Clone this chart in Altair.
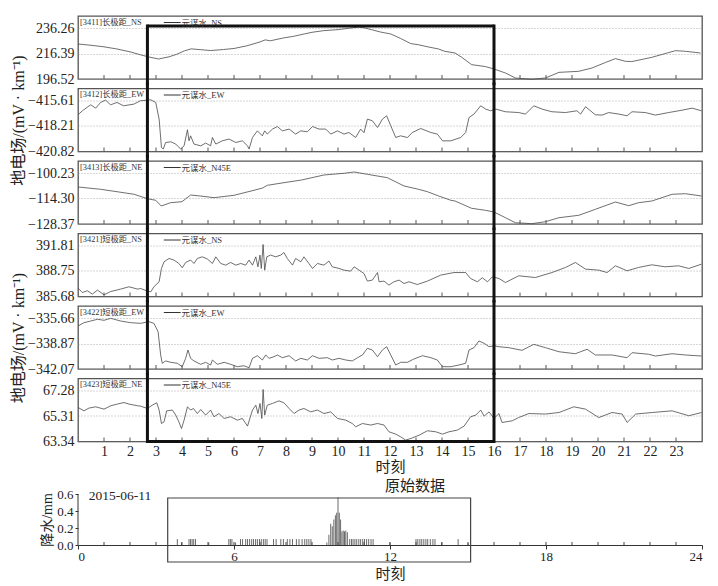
import altair as alt
import pandas as pd

HOURS = list(range(1, 24))
RAIN_TICKS = [0, 6, 12, 18, 24]
RAIN_Y_TICKS = [0.0, 0.2, 0.4, 0.6]
BOX_T = [2.67, 16.0]
RAIN_BOX_T = [3.45, 15.1]

station_labels = ["[3411]长极距_NS", "[3412]长极距_EW", "[3413]长极距_NE",
                  "[3421]短极距_NS", "[3422]短极距_EW", "[3423]短极距_NE"]
legend_labels = ["元谋水_NS", "元谋水_EW", "元谋水_N45E",
                 "元谋水_NS", "元谋水_EW", "元谋水_N45E"]
y_ticks = [
    [196.52, 216.39, 236.26],
    [-420.82, -418.21, -415.61],
    [-128.37, -114.30, -100.23],
    [385.68, 388.75, 391.81],
    [-342.07, -338.87, -335.66],
    [63.34, 65.31, 67.28],
]

p1 = [(0.0, 223.8), (0.5, 222.8), (1.0, 221.6), (1.5, 219.9), (2.0, 217.7), (2.4, 215.4),
      (2.7, 213.8), (3.1, 212.1), (3.5, 213.8), (3.8, 215.8), (4.1, 218.5), (4.35, 220.0),
      (4.7, 219.4), (5.1, 218.7), (5.6, 219.5), (6.0, 220.3), (6.5, 222.4), (7.0, 225.4),
      (7.2, 227.0), (7.4, 226.3), (7.9, 228.5), (8.3, 229.8), (8.7, 231.6), (9.0, 232.9),
      (9.45, 234.2), (10.0, 235.0), (10.4, 236.0), (10.8, 237.0), (11.0, 236.4), (11.3, 234.9),
      (11.64, 233.1), (12.03, 231.6), (12.4, 228.2), (12.8, 224.1), (13.1, 223.2), (13.45, 221.6),
      (13.87, 219.9), (14.1, 218.1), (14.5, 216.8), (14.76, 213.4), (15.14, 207.7), (15.67, 206.2),
      (16.0, 204.3), (16.44, 201.2), (16.82, 197.3), (17.45, 196.3), (17.98, 197.3), (18.5, 201.7),
      (19.26, 202.5), (19.77, 205.1), (20.3, 209.5), (20.67, 212.4), (21.06, 210.3), (21.3, 210.1),
      (22.07, 213.4), (22.98, 218.6), (23.36, 218.1), (23.94, 216.8)]

p2 = [(0.0, -417.07), (0.17, -416.66), (0.38, -416.25), (0.49, -416.05), (0.68, -416.39),
      (0.87, -415.81), (1.06, -415.57), (1.25, -416.05), (1.5, -415.81), (1.75, -416.15),
      (2.15, -415.98), (2.4, -415.64), (2.8, -415.54), (2.99, -415.81), (3.12, -417.51),
      (3.21, -420.41), (3.28, -420.57), (3.37, -419.90), (3.57, -419.83), (3.76, -420.06),
      (3.95, -420.57), (4.08, -420.24), (4.21, -418.60), (4.27, -419.73), (4.33, -419.22),
      (4.46, -420.06), (4.72, -420.24), (4.91, -419.96), (5.1, -420.24), (5.17, -419.39),
      (5.3, -420.06), (5.55, -419.73), (5.81, -419.55), (6.07, -419.90), (6.32, -419.73),
      (6.52, -420.24), (6.58, -420.57), (6.71, -419.39), (6.9, -418.71), (7.09, -419.22),
      (7.18, -418.71), (7.28, -419.04), (7.48, -418.53), (7.67, -418.27), (7.86, -418.71),
      (8.12, -418.53), (8.37, -419.04), (8.57, -418.71), (8.82, -418.81), (9.02, -418.27),
      (9.27, -418.53), (9.53, -418.53), (9.72, -419.04), (9.98, -418.71), (10.23, -419.04),
      (10.42, -418.88), (10.68, -419.39), (10.87, -418.53), (11.0, -418.90), (11.13, -417.51),
      (11.32, -417.68), (11.52, -418.37), (11.71, -417.51), (11.87, -417.17), (12.03, -418.19),
      (12.22, -419.39), (12.41, -419.22), (12.67, -419.39), (12.86, -418.88), (13.18, -418.47),
      (13.57, -418.88), (13.82, -419.04), (14.02, -419.73), (14.34, -419.73), (14.72, -419.39),
      (14.91, -418.88), (15.04, -417.35), (15.23, -417.0), (15.49, -416.15), (15.68, -416.49),
      (15.87, -416.66), (16.07, -416.49), (16.44, -416.76), (16.95, -416.84), (17.21, -417.0),
      (17.53, -416.15), (17.85, -416.49), (18.23, -416.76), (18.75, -416.84), (19.19, -416.66),
      (19.33, -417.0), (19.52, -416.25), (19.9, -417.07), (20.16, -417.10), (20.41, -416.84),
      (20.8, -417.0), (21.12, -417.17), (21.31, -416.76), (21.82, -416.84), (22.21, -417.10),
      (22.72, -416.84), (23.23, -416.60), (23.62, -416.39), (23.98, -416.66)]

p3 = [(0.0, -107.95), (0.87, -109.22), (1.5, -110.55), (2.16, -111.98), (2.67, -114.41),
      (2.99, -115.29), (3.2, -118.44), (3.56, -116.62), (4.0, -116.06), (4.33, -112.37),
      (4.7, -112.92), (5.23, -113.86), (6.0, -112.53), (6.77, -109.77), (7.1, -108.5),
      (7.28, -107.02), (7.92, -105.58), (8.6, -104.09), (9.46, -101.33), (10.23, -100.39),
      (10.62, -99.68), (11.13, -100.95), (11.9, -102.82), (12.54, -107.40), (13.1, -109.22),
      (13.44, -110.55), (13.87, -112.92), (14.34, -115.29), (14.5, -115.68), (15.14, -119.71),
      (15.67, -120.81), (16.0, -121.75), (16.44, -124.89), (16.82, -127.65), (17.45, -128.2),
      (17.98, -127.10), (18.5, -124.89), (19.26, -123.57), (19.9, -120.26), (20.67, -116.23),
      (21.18, -118.27), (21.56, -116.62), (22.07, -115.68), (22.85, -111.98), (23.36, -111.65),
      (23.98, -112.92)]

p4 = [(0.0, 386.69), (0.17, 386.16), (0.36, 386.37), (0.55, 385.97), (0.75, 386.45),
      (1.0, 385.88), (1.26, 386.28), (1.64, 386.57), (1.96, 386.85), (2.29, 386.57),
      (2.41, 386.64), (2.67, 386.33), (2.8, 386.24), (2.92, 386.85), (3.12, 387.45),
      (3.21, 389.05), (3.31, 389.85), (3.5, 390.25), (3.69, 390.06), (3.88, 389.65),
      (4.01, 389.13), (4.14, 389.77), (4.33, 390.06), (4.46, 389.65), (4.59, 390.25),
      (4.78, 390.45), (4.98, 390.18), (5.17, 389.65), (5.3, 390.45), (5.49, 389.65),
      (5.68, 389.45), (5.87, 389.77), (6.07, 389.45), (6.26, 389.65), (6.45, 389.45),
      (6.58, 390.06), (6.71, 389.45), (6.84, 390.45), (6.92, 389.25), (7.0, 390.66),
      (7.05, 389.05), (7.12, 391.93), (7.18, 388.85), (7.26, 390.45), (7.41, 390.66),
      (7.6, 390.45), (7.8, 390.66), (7.92, 390.97), (8.05, 390.25), (8.25, 389.45),
      (8.37, 390.25), (8.57, 389.85), (8.69, 390.45), (8.88, 389.65), (9.02, 389.05),
      (9.21, 389.65), (9.46, 389.45), (9.65, 389.94), (9.78, 389.25), (10.04, 389.05),
      (10.23, 388.85), (10.49, 388.73), (10.62, 389.25), (10.81, 388.85), (11.0, 388.44),
      (11.13, 387.53), (11.32, 387.65), (11.52, 388.56), (11.58, 387.45), (11.77, 387.53),
      (11.96, 387.05), (12.15, 387.45), (12.35, 387.65), (12.54, 387.24), (12.73, 387.45),
      (13.05, 387.12), (13.44, 387.53), (13.95, 388.25), (14.46, 388.56), (14.91, 388.56),
      (15.1, 387.84), (15.36, 387.45), (15.55, 387.93), (15.75, 387.45), (15.94, 388.05),
      (16.19, 387.84), (16.44, 387.36), (16.95, 388.17), (17.59, 387.96), (18.23, 388.56),
      (18.75, 389.17), (19.13, 389.77), (19.52, 388.97), (20.03, 388.85), (20.35, 388.56),
      (20.67, 389.37), (21.12, 388.77), (21.56, 389.17), (22.07, 389.49), (22.58, 389.25),
      (23.1, 389.37), (23.49, 389.05), (23.98, 389.57)]

p5 = [(0.0, -336.66), (0.23, -336.25), (0.49, -336.04), (0.75, -335.82), (1.0, -335.95),
      (1.26, -335.70), (1.64, -336.04), (2.03, -336.25), (2.41, -336.33), (2.73, -336.12),
      (2.92, -336.33), (3.08, -337.38), (3.18, -340.31), (3.24, -341.35), (3.37, -341.06),
      (3.57, -341.23), (3.82, -341.35), (4.01, -341.78), (4.14, -340.73), (4.23, -339.68),
      (4.33, -340.73), (4.46, -341.06), (4.72, -341.48), (4.91, -341.23), (5.1, -341.57),
      (5.17, -340.94), (5.36, -341.48), (5.62, -341.23), (5.87, -341.48), (6.13, -341.78),
      (6.38, -341.66), (6.58, -341.91), (6.71, -340.73), (6.9, -340.40), (7.09, -340.94),
      (7.22, -340.31), (7.35, -340.73), (7.54, -340.52), (7.67, -340.31), (7.86, -340.65),
      (8.12, -340.40), (8.37, -341.06), (8.57, -340.73), (8.82, -340.94), (9.02, -340.40),
      (9.27, -340.73), (9.59, -340.65), (9.78, -340.94), (10.04, -340.73), (10.3, -340.94),
      (10.55, -341.06), (10.75, -340.65), (10.94, -340.31), (11.13, -339.47), (11.32, -339.68),
      (11.52, -340.52), (11.71, -339.68), (11.87, -339.27), (12.03, -340.31), (12.22, -341.57),
      (12.41, -341.23), (12.67, -341.23), (12.92, -340.81), (13.25, -340.40), (13.57, -340.65),
      (13.82, -340.94), (14.02, -341.78), (14.34, -341.78), (14.65, -341.57), (14.91, -341.35),
      (15.04, -339.68), (15.23, -339.39), (15.42, -338.55), (15.62, -338.84), (15.81, -339.27),
      (16.0, -339.14), (16.19, -339.27), (16.57, -339.39), (17.08, -339.72), (17.53, -338.97),
      (17.98, -339.39), (18.5, -339.90), (19.13, -340.15), (19.58, -339.59), (19.9, -340.31),
      (20.54, -340.31), (21.12, -340.65), (21.31, -340.02), (21.95, -340.22), (22.21, -340.44),
      (22.85, -340.15), (23.36, -340.31), (23.98, -340.44)]

p6 = [(0.0, 65.97), (0.23, 65.71), (0.42, 65.92), (0.68, 66.02), (1.0, 65.84), (1.26, 66.10),
      (1.51, 66.23), (1.77, 66.35), (1.96, 66.23), (2.29, 66.10), (2.41, 66.07), (2.67, 65.89),
      (2.86, 66.15), (3.03, 66.33), (3.12, 65.77), (3.21, 64.73), (3.31, 64.86), (3.41, 65.71),
      (3.63, 65.77), (3.76, 65.38), (3.88, 64.86), (3.98, 64.34), (4.08, 64.99), (4.21, 66.02),
      (4.33, 65.77), (4.44, 65.89), (4.59, 65.50), (4.72, 65.81), (4.91, 65.38), (5.1, 65.77),
      (5.23, 65.25), (5.42, 65.50), (5.62, 65.12), (5.87, 65.25), (6.13, 64.99), (6.32, 65.12),
      (6.52, 64.53), (6.71, 65.77), (6.84, 66.15), (6.92, 65.50), (7.0, 66.28), (7.07, 65.12),
      (7.12, 67.36), (7.18, 65.38), (7.28, 66.15), (7.48, 66.28), (7.73, 66.48), (7.92, 66.33),
      (8.12, 65.89), (8.31, 65.50), (8.5, 65.77), (8.69, 65.89), (8.95, 65.63), (9.21, 65.77),
      (9.46, 65.50), (9.72, 65.63), (9.98, 65.12), (10.3, 64.99), (10.55, 64.73), (10.68, 64.48),
      (10.94, 64.73), (11.26, 64.61), (11.52, 64.73), (11.77, 64.61), (11.96, 64.09), (12.22, 63.91),
      (12.41, 63.70), (12.6, 63.45), (12.8, 63.57), (13.12, 63.83), (13.44, 64.17), (13.76, 64.09),
      (14.02, 63.91), (14.27, 64.09), (14.59, 64.22), (14.85, 64.53), (15.1, 65.25), (15.3, 65.38),
      (15.49, 65.77), (15.62, 65.30), (15.81, 65.63), (16.0, 65.12), (16.19, 65.50), (16.31, 64.81),
      (16.7, 64.94), (16.95, 65.19), (17.34, 65.50), (17.98, 65.46), (18.5, 65.58), (19.07, 66.02),
      (19.52, 65.84), (20.03, 65.19), (20.54, 65.58), (20.93, 65.46), (21.12, 64.81), (21.45, 65.46),
      (22.09, 65.58), (22.85, 65.71), (23.49, 65.33), (23.98, 65.58)]

series = [p1, p2, p3, p4, p5, p6]

rain = [(3.82, 0.07), (3.98, 0.03), (4.27, 0.07), (4.33, 0.07), (4.39, 0.07), (4.45, 0.07),
        (4.52, 0.07), (5.03, 0.03), (5.80, 0.07), (5.86, 0.07), (5.92, 0.07), (6.06, 0.03),
        (6.25, 0.07), (6.33, 0.07), (6.45, 0.07), (6.52, 0.07), (6.60, 0.07), (6.68, 0.07),
        (6.75, 0.07), (6.83, 0.07), (6.90, 0.07), (6.98, 0.07), (7.05, 0.07), (7.13, 0.07),
        (7.20, 0.07), (7.27, 0.07), (7.52, 0.07), (7.62, 0.07), (7.80, 0.07), (7.90, 0.07),
        (8.05, 0.07), (8.15, 0.07), (8.25, 0.07), (8.40, 0.07), (8.50, 0.07), (8.62, 0.07),
        (8.72, 0.07), (8.80, 0.07), (8.88, 0.07), (8.96, 0.07), (9.57, 0.03), (9.65, 0.12),
        (9.72, 0.25), (9.78, 0.22), (9.84, 0.30), (9.90, 0.35), (9.95, 0.38), (10.00, 0.56),
        (10.05, 0.38), (10.10, 0.30), (10.15, 0.16), (10.20, 0.17), (10.25, 0.16), (10.30, 0.17),
        (10.36, 0.15), (10.45, 0.07), (10.52, 0.07), (10.58, 0.07), (10.65, 0.07), (10.72, 0.07),
        (10.80, 0.07), (10.87, 0.07), (10.95, 0.07), (11.02, 0.07), (11.10, 0.07), (11.18, 0.07),
        (11.27, 0.07), (11.35, 0.07), (12.00, 0.03), (13.00, 0.07), (13.07, 0.07), (13.15, 0.07),
        (13.22, 0.07), (13.30, 0.07), (13.38, 0.07), (13.45, 0.07), (13.55, 0.07), (13.65, 0.07),
        (13.73, 0.07), (13.98, 0.03), (14.62, 0.07), (15.00, 0.02)]

W, H = 624, 63
SP = 9.5
RAIN_PLOT = 51            # pixel height of the 0..0.6 rain range
RH = 94                   # rain view height (includes room above the 0..0.6 range)
FONT = "Liberation Serif, Noto Sans CJK SC"
LINE = "#4a4a4a"
YTITLE = "地电场/(mV · km⁻¹)"
xs = alt.Scale(domain=[0, 24], nice=False, zero=False)


def panel(k):
    lo, mid, hi = y_ticks[k]
    top = lo + (hi - lo) / 2 * H / 25.5
    ys = alt.Scale(domain=[lo, top], nice=False, zero=False)
    if k == 5:
        xaxis = alt.Axis(values=HOURS, format="d", ticks=False, domain=False, grid=False,
                         labelPadding=3, labelFontSize=14, title="时刻", titleFontSize=15,
                         titlePadding=1)
    else:
        xaxis = None
    if k in (1, 4):
        yaxis = alt.Axis(values=y_ticks[k], format=".2f", ticks=False, domain=False,
                         labelPadding=4, title=YTITLE, titlePadding=1, titleFontSize=16)
    else:
        yaxis = alt.Axis(values=y_ticks[k], format=".2f", ticks=False, domain=False,
                         labelPadding=4, title=None)

    def X(f):
        return alt.X(f, scale=xs, axis=xaxis)

    df = pd.DataFrame(series[k], columns=["t", "v"])
    line = alt.Chart(df).mark_line(color=LINE, strokeWidth=0.8).encode(
        x=X("t:Q"), y=alt.Y("v:Q", scale=ys, axis=yaxis))
    ticks = alt.Chart(pd.DataFrame({"h": HOURS})).mark_rule(color="#555", strokeWidth=1).encode(
        x=X("h:Q"), y=alt.value(H - 4), y2=alt.value(H))
    y_top = 8.5 if k == 0 else -6
    y_bot = H + 1.5 if k == 5 else H + 6
    box_v = alt.Chart(pd.DataFrame({"t": BOX_T})).mark_rule(color="#111", strokeWidth=3).encode(
        x=X("t:Q"), y=alt.value(y_top), y2=alt.value(y_bot))
    layers = [line, ticks, box_v]
    if k == 0 or k == 5:
        yh = 10 if k == 0 else H
        box_h = alt.Chart(pd.DataFrame({"a": [BOX_T[0]], "b": [BOX_T[1]]})).mark_rule(
            color="#111", strokeWidth=3).encode(x=X("a:Q"), x2="b:Q", y=alt.value(yh))
        layers.append(box_h)
    lab = alt.Chart(pd.DataFrame({"t": [0.08], "s": [station_labels[k]]})).mark_text(
        align="left", baseline="middle", fontSize=8.3, font=FONT, color="#333").encode(
        x=X("t:Q"), y=alt.value(6.5), text="s:N")
    leg_line = alt.Chart(pd.DataFrame({"a": [3.3], "b": [3.95]})).mark_rule(
        color="#333", strokeWidth=1).encode(x=X("a:Q"), x2="b:Q", y=alt.value(6.5))
    leg_txt = alt.Chart(pd.DataFrame({"t": [3.98], "s": [legend_labels[k]]})).mark_text(
        align="left", baseline="middle", fontSize=8.5, font=FONT, color="#333").encode(
        x=X("t:Q"), y=alt.value(6.5), text="s:N")
    layers += [lab, leg_line, leg_txt]
    return alt.layer(*layers).properties(width=W, height=H)


# ---- rain chart
rain_top = RAIN_Y_TICKS[-1] * RH / RAIN_PLOT
ry = alt.Scale(domain=[0, rain_top], nice=False, zero=True)
rx = alt.Scale(domain=[0, 24], nice=False, zero=False)
rxa = alt.Axis(values=RAIN_TICKS, format="d", tickSize=4, tickColor="#333", domainColor="#333",
               grid=False, labelPadding=1, labelFontSize=13, title="时刻", titleFontSize=15,
               titlePadding=3)
rya = alt.Axis(values=RAIN_Y_TICKS, format=".1f", tickSize=3, tickColor="#333",
               domain=False, grid=False, labelPadding=2, labelFontSize=13,
               title="降水/mm", titleFontSize=14, titlePadding=2,
               titleY=RH - RAIN_PLOT / 2)


def RX(f):
    return alt.X(f, scale=rx, axis=rxa)


rdf = pd.DataFrame(rain, columns=["t", "v"])
spikes = alt.Chart(rdf).mark_rule(color="#444", strokeWidth=0.8).encode(
    x=RX("t:Q"), y=alt.Y("v:Q", scale=ry, axis=rya), y2=alt.datum(0))
yline = alt.Chart(pd.DataFrame({"t": [0], "a": [0.0], "b": [RAIN_Y_TICKS[-1]]})).mark_rule(
    color="#333", strokeWidth=1).encode(x=RX("t:Q"), y=alt.Y("a:Q", scale=ry, axis=rya), y2="b:Q")
rticks = alt.Chart(pd.DataFrame({"h": HOURS})).mark_rule(color="#444", strokeWidth=1).encode(
    x=RX("h:Q"), y=alt.value(RH - 3), y2=alt.value(RH))
box_top = RH - RAIN_PLOT + 4
rbox = alt.Chart(pd.DataFrame({"a": [RAIN_BOX_T[0]], "b": [RAIN_BOX_T[1]]})).mark_rect(
    fillOpacity=0, stroke="#444", strokeWidth=1.2).encode(
    x=RX("a:Q"), x2="b:Q", y=alt.value(box_top), y2=alt.value(RH + 17))
date_txt = alt.Chart(pd.DataFrame({"t": [0.41], "s": ["2015-06-11"]})).mark_text(
    align="left", baseline="middle", fontSize=13.5, font=FONT, color="#222").encode(
    x=RX("t:Q"), y=alt.value(RH - RAIN_PLOT + 1.5), text="s:N")
raw_txt = alt.Chart(pd.DataFrame({"t": [12.96], "s": ["原始数据"]})).mark_text(
    align="center", baseline="middle", fontSize=15, font=FONT, color="#222").encode(
    x=RX("t:Q"), y=alt.value(RH - RAIN_PLOT - 8), text="s:N")

rain_chart = alt.layer(spikes, yline, rticks, rbox, date_txt, raw_txt).properties(
    width=W, height=RH, view=alt.ViewBackground(stroke="transparent"))

charts = [panel(k) for k in range(6)] + [rain_chart]
chart = alt.vconcat(*charts, spacing=SP, bounds="flush").properties(
    padding={"left": 1, "top": 7, "right": 5, "bottom": 0}, background="white"
).configure_view(stroke="#555", strokeWidth=1.3).configure_axis(
    labelFont=FONT, titleFont=FONT, labelColor="#222", titleColor="#222",
    titleFontWeight="normal", labelFontSize=14, gridDash=[1, 2], gridColor="#999",
    gridWidth=0.8)

chart.save("out.html", embed_options={"renderer": "svg", "actions": False})
